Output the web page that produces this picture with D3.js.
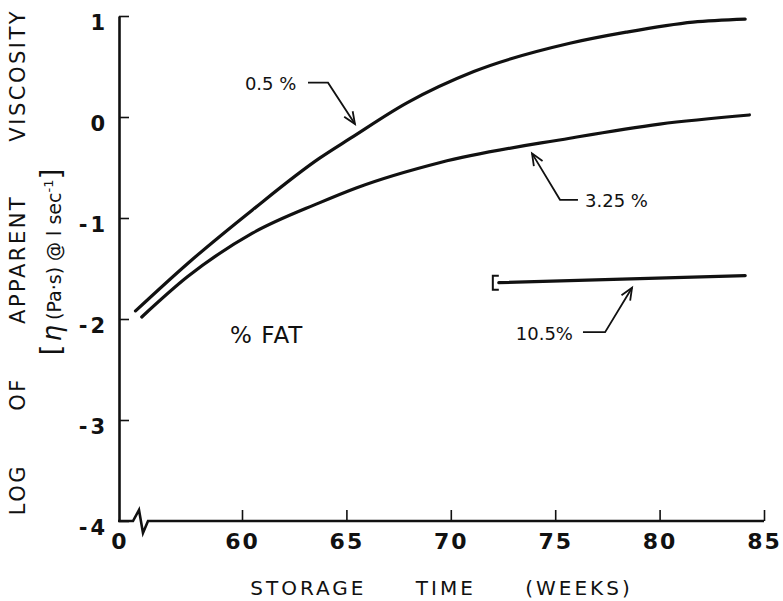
<!DOCTYPE html>
<meta charset="utf-8">
<script src="https://d3js.org/d3.v7.min.js"></script>
<style>
  body { margin: 0; background: #fff; }
  text { font-family: "DejaVu Sans", sans-serif; fill: #111; }
</style>
<div id="chart"></div>
<script>
// values
var fat05Weeks  = [54.9, 57.4, 60.5, 63.7, 65.2, 67.9, 71.1, 75.7, 78.4, 81.6, 84.1];
var fat05Visc   = [-1.92, -1.45, -0.92, -0.41, -0.21, 0.14, 0.45, 0.73, 0.84, 0.94, 0.97];
var fat325Weeks = [55.2, 57.4, 60.5, 63.7, 65.5, 69.5, 75.7, 80.0, 84.3];
var fat325Visc  = [-1.98, -1.58, -1.15, -0.85, -0.70, -0.45, -0.21, -0.07, 0.02];
var fat105Weeks = [72.3, 84.1];
var fat105Visc  = [-1.64, -1.57];

var xTicks = [60, 65, 70, 75, 80, 85];
var yTicks = [1, 0, -1, -2, -3, -4];

// label, arrow tip, elbow, dash end, text anchor (all in data units)
var notes = [
  {label: "0.5 %",  tip: [65.41, -0.07], elbow: [64.12, 0.34],  dash: [63.16, 0.34],  text: [60.14, 0.27],  anchor: "start"},
  {label: "3.25 %", tip: [73.89, -0.36], elbow: [75.23, -0.82], dash: [76.09, -0.82], text: [76.43, -0.89], anchor: "start"},
  {label: "10.5%",  tip: [78.68, -1.69], elbow: [77.39, -2.13], dash: [76.33, -2.13], text: [75.85, -2.21], anchor: "end"}
];

var width = 783, height = 601;
var x0 = 119; // position of the broken origin

var svg = d3.select("#chart").append("svg")
    .attr("width", width)
    .attr("height", height);

var x = d3.scaleLinear().domain([60, 85]).range([242, 764]);
var y = d3.scaleLinear().domain([-4, 1]).range([521, 16]);

// y axis
var yAxis = svg.append("g")
    .attr("transform", "translate(" + x0 + ",0)")
    .call(d3.axisLeft(y).tickValues(yTicks).tickSizeInner(-10).tickSizeOuter(0).tickPadding(11)
      .tickFormat(function(d) { return d < 0 ? "-" + Math.abs(d) : d; }));
yAxis.select(".domain").attr("stroke", "#111").attr("stroke-width", 2.6);
yAxis.selectAll(".tick line").attr("stroke", "#111").attr("stroke-width", 1.6);
yAxis.selectAll(".tick text")
    .attr("dy", "0.62em")
    .style("font-family", "'DejaVu Sans', sans-serif")
    .style("font-weight", "bold")
    .style("font-size", "21px")
    .style("letter-spacing", "3px")
    .attr("fill", "#111");

// x axis with break
var xAxis = svg.append("g")
    .attr("transform", "translate(0," + y(-4) + ")")
    .call(d3.axisBottom(x).tickValues(xTicks).tickSizeInner(-11).tickSizeOuter(0).tickPadding(12));
xAxis.select(".domain").remove();
xAxis.selectAll(".tick line").attr("stroke", "#111").attr("stroke-width", 1.6);
xAxis.selectAll(".tick text")
    .style("font-family", "'DejaVu Sans', sans-serif")
    .style("font-weight", "bold")
    .style("font-size", "22px")
    .style("letter-spacing", "2px")
    .attr("fill", "#111");

var ya = y(-4);
svg.append("path")
    .attr("d", "M" + (x0 - 1) + "," + ya + "H" + (x0 + 14) +
      "L" + (x0 + 20) + "," + (ya - 11) + "L" + (x0 + 24) + "," + (ya + 12) +
      "L" + (x0 + 29) + "," + ya + "H" + x(85))
    .attr("fill", "none")
    .attr("stroke", "#111")
    .attr("stroke-width", 2.6)
    .attr("stroke-linejoin", "miter");

svg.append("text")
    .attr("x", x0)
    .attr("y", ya + 12)
    .attr("dy", "0.71em")
    .attr("text-anchor", "middle")
    .style("font-weight", "bold")
    .style("font-size", "22px")
    .text("0");

// curves
var line = d3.line()
    .x(function(d) { return x(d[0]); })
    .y(function(d) { return y(d[1]); })
    .curve(d3.curveMonotoneX);

[[fat05Weeks, fat05Visc], [fat325Weeks, fat325Visc], [fat105Weeks, fat105Visc]].forEach(function(s) {
  svg.append("path")
      .datum(d3.zip(s[0], s[1]))
      .attr("fill", "none")
      .attr("stroke", "#111")
      .attr("stroke-width", 3.2)
      .attr("stroke-linecap", "round")
      .attr("d", line);
});

// small bracket at start of the 10.5% line
var bx = x(fat105Weeks[0]) - 6, by = y(fat105Visc[0]);
svg.append("path")
    .attr("d", "M" + (bx + 6) + "," + (by - 7) + "H" + bx + "V" + (by + 7) + "H" + (bx + 6))
    .attr("fill", "none")
    .attr("stroke", "#111")
    .attr("stroke-width", 2);

// annotations
notes.forEach(function(n) {
  var tx = x(n.tip[0]), ty = y(n.tip[1]);
  var ex = x(n.elbow[0]), ey = y(n.elbow[1]);
  svg.append("path")
      .attr("d", "M" + x(n.dash[0]) + "," + y(n.dash[1]) + "L" + ex + "," + ey + "L" + tx + "," + ty)
      .attr("fill", "none")
      .attr("stroke", "#111")
      .attr("stroke-width", 1.8);
  var a = Math.atan2(ty - ey, tx - ex), len = 13, spread = 0.4;
  svg.append("path")
      .attr("d", "M" + (tx - len * Math.cos(a - spread)) + "," + (ty - len * Math.sin(a - spread)) +
        "L" + tx + "," + ty +
        "L" + (tx - len * Math.cos(a + spread)) + "," + (ty - len * Math.sin(a + spread)))
      .attr("fill", "none")
      .attr("stroke", "#111")
      .attr("stroke-width", 1.8);
  svg.append("text")
      .attr("x", x(n.text[0]))
      .attr("y", y(n.text[1]))
      .attr("text-anchor", n.anchor)
      .style("font-size", "18px")
      .text(n.label);
});

svg.append("text")
    .attr("x", x(59.43))
    .attr("y", y(-2.24))
    .style("font-size", "23px")
    .style("letter-spacing", "1px")
    .text("% FAT");

// axis titles
svg.append("text")
    .attr("x", (x0 + x(85)) / 2)
    .attr("y", 595)
    .attr("text-anchor", "middle")
    .style("font-size", "20px")
    .style("letter-spacing", "3px")
    .style("word-spacing", "40px")
    .text("STORAGE TIME (WEEKS)");

svg.append("text")
    .attr("transform", "translate(25," + 262 + ") rotate(-90)")
    .attr("text-anchor", "middle")
    .style("font-size", "21px")
    .style("letter-spacing", "2.5px")
    .style("word-spacing", "44px")
    .text("LOG OF APPARENT VISCOSITY");

var sub = svg.append("text")
    .attr("transform", "translate(61," + 262 + ") rotate(-90)")
    .attr("text-anchor", "middle")
    .style("font-size", "19px");
sub.append("tspan").style("font-size", "28px").text("[");
sub.append("tspan").style("font-size", "26px").style("font-style", "italic").attr("dx", 3).text("η");
sub.append("tspan").attr("dx", 5).text("(Pa·s) @ l sec");
sub.append("tspan").attr("dy", -8).style("font-size", "13px").text("-1");
sub.append("tspan").attr("dy", 8).style("font-size", "28px").text("]");
</script>
